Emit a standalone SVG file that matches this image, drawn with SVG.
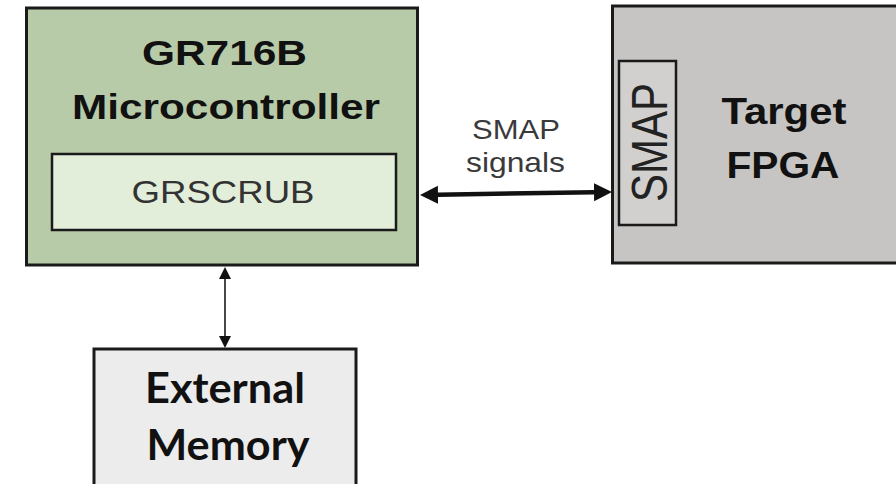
<svg xmlns="http://www.w3.org/2000/svg" width="896" height="484" viewBox="0 0 896 484">
  <defs>
    <marker id="bigHead" markerUnits="userSpaceOnUse" markerWidth="20" markerHeight="20" viewBox="0 -10 20 20" refX="0" refY="0" orient="auto-start-reverse">
      <path d="M0,-9 L18,0 L0,9 Z" fill="#111"/>
    </marker>
    <marker id="smallHead" markerUnits="userSpaceOnUse" markerWidth="14" markerHeight="14" viewBox="0 -7 14 14" refX="0" refY="0" orient="auto-start-reverse">
      <path d="M0,-6 L12,0 L0,6 Z" fill="#111"/>
    </marker>
  </defs>
  <style>
    .box { stroke: #1a1a1a; stroke-width: 3; }
    .inner { stroke: #1a1a1a; stroke-width: 2.5; }
    .head { font-family: "Liberation Sans", Arial, sans-serif; font-weight: bold; fill: #111; text-anchor: middle; }
    .reg { font-family: "Liberation Sans", Arial, sans-serif; text-anchor: middle; }
    .cal { font-family: Lato, "Open Sans", sans-serif; font-weight: bold; fill: #111; text-anchor: middle; }
  </style>
  <rect width="896" height="484" fill="#ffffff"/>

  <g id="gr716b">
    <rect class="box" x="26.5" y="8" width="391" height="257" fill="#b8cba8"/>
    <text class="head" x="224.5" y="65" font-size="35" textLength="165" lengthAdjust="spacingAndGlyphs">GR716B</text>
    <text class="head" x="226" y="119" font-size="35" textLength="308" lengthAdjust="spacingAndGlyphs">Microcontroller</text>
  </g>

  <g id="grscrub">
    <rect class="inner" x="52" y="154" width="344" height="76" fill="#e2eed9"/>
    <text class="reg" x="223" y="203" font-size="31" fill="#333" textLength="183" lengthAdjust="spacingAndGlyphs">GRSCRUB</text>
  </g>

  <g id="fpga">
    <rect class="box" x="612.5" y="6" width="300" height="257" fill="#c6c5c4"/>
    <text class="head" x="784" y="124" font-size="37" textLength="125" lengthAdjust="spacingAndGlyphs">Target</text>
    <text class="head" x="783" y="178" font-size="37" textLength="113" lengthAdjust="spacingAndGlyphs">FPGA</text>
  </g>

  <g id="smap">
    <rect class="inner" x="619" y="61" width="57" height="164" fill="#d1d0cf"/>
    <text class="reg" transform="translate(666.5,142.5) scale(1.2,1) rotate(-90)" x="0" y="0" font-size="42" fill="#222" textLength="119" lengthAdjust="spacingAndGlyphs">SMAP</text>
  </g>

  <g id="memory">
    <rect class="box" x="94" y="349" width="262" height="150" fill="#ececec"/>
    <text class="cal" x="225" y="403" font-size="42" textLength="160" lengthAdjust="spacingAndGlyphs">External</text>
    <text class="cal" x="228" y="460" font-size="42" textLength="163" lengthAdjust="spacingAndGlyphs">Memory</text>
  </g>

  <g id="connectors">
    <path d="M438,194.7 L594,192.3" stroke="#111" stroke-width="4.5" fill="none" marker-start="url(#bigHead)" marker-end="url(#bigHead)"/>
    <text class="reg" x="516" y="139" font-size="28" fill="#3a3a3a" textLength="88" lengthAdjust="spacingAndGlyphs">SMAP</text>
    <text class="reg" x="515.5" y="172" font-size="28" fill="#3a3a3a" textLength="99" lengthAdjust="spacingAndGlyphs">signals</text>
    <path d="M225,279 L225,336" stroke="#333" stroke-width="1.8" fill="none" marker-start="url(#smallHead)" marker-end="url(#smallHead)"/>
  </g>
</svg>
